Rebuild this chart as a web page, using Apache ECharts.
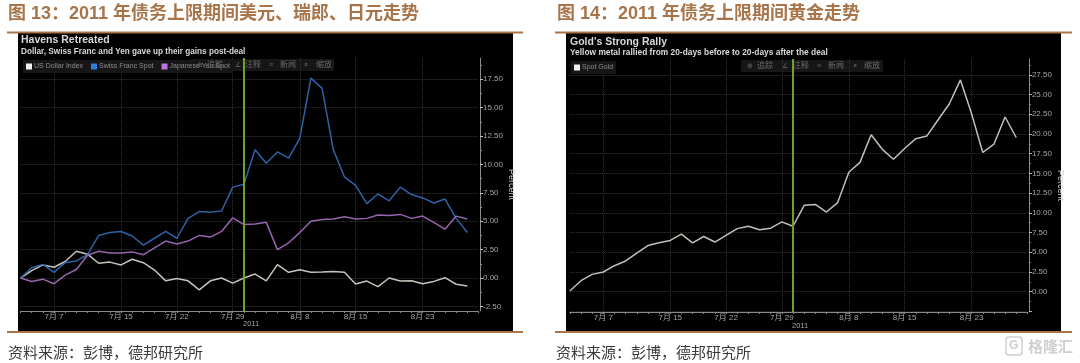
<!DOCTYPE html>
<html><head><meta charset="utf-8">
<style>html,body{margin:0;padding:0;background:#fff}#c{width:1080px;height:363px}</style>
<script src="https://cdn.jsdelivr.net/npm/echarts@6/dist/echarts.min.js"></script>
</head><body><div id="c"></div>
<script>
const tradingDays = ['7月 1','7月 5','7月 6','7月 7','7月 8','7月 11','7月 12','7月 13','7月 14','7月 15','7月 18','7月 19','7月 20','7月 21','7月 22','7月 25','7月 26','7月 27','7月 28','7月 29','8月 1','8月 2','8月 3','8月 4','8月 5','8月 8','8月 9','8月 10','8月 11','8月 12','8月 15','8月 16','8月 17','8月 18','8月 19','8月 22','8月 23','8月 24','8月 25','8月 26','8月 29',''];
const tickLabels = ['7月 7','7月 15','7月 22','7月 29','8月 8','8月 15','8月 23'];
const dealDay = '8月 1';
const usd = [0,0.65,1.15,0.95,1.45,2.35,2.1,1.3,1.4,1.15,1.65,1.35,0.7,-0.25,-0.05,-0.25,-1.05,-0.25,0,-0.45,0,0.35,-0.25,1.18,0.5,0.73,0.5,0.52,0.57,0.5,-0.53,-0.27,-0.76,0,-0.27,-0.25,-0.5,-0.3,0.03,-0.55,-0.7];
const chf = [0,0.9,1.2,0.5,1.35,1.5,2.05,3.75,4.0,4.1,3.7,2.9,3.5,4.1,3.5,5.25,5.85,5.8,5.9,8.0,8.25,11.3,10.1,11.1,10.55,12.3,17.6,16.7,11.3,8.9,8.15,6.55,7.4,6.8,8.0,7.35,7.05,6.6,6.95,5.25,4.0];
const jpy = [0,-0.3,-0.1,-0.5,0.25,0.75,2.0,2.35,2.2,2.2,2.3,2.05,2.65,3.25,3.0,3.25,3.75,3.6,4.1,5.3,4.7,4.75,4.9,2.5,3.1,4.0,5.0,5.15,5.2,5.4,5.2,5.25,5.55,5.5,5.6,5.25,5.45,4.9,4.3,5.45,5.2];
const gold = [0.1,1.4,2.2,2.5,3.3,3.9,4.9,5.85,6.2,6.5,7.3,6.2,7.0,6.3,7.15,8.0,8.3,7.85,8.05,8.85,8.3,10.95,11.07,10.1,11.3,15.15,16.4,19.9,18.05,16.8,18.15,19.4,19.75,21.8,23.8,26.85,22.55,17.65,18.7,22.15,19.55];
const leftMajor = [-2.5,0,2.5,5,7.5,10,12.5,15,17.5];
const leftMinor = [-1.25,1.25,3.75,6.25,8.75,11.25,13.75,16.25,18.75];
const rightMajor = [-2.5,0,2.5,5,7.5,10,12.5,15,17.5,20,22.5,25,27.5];
const rightLabels = [0,2.5,5,7.5,10,12.5,15,17.5,20,22.5,25,27.5];
const rightMinor = [-1.25,1.25,3.75,6.25,8.75,11.25,13.75,16.25,18.75,21.25,23.75,26.25,28.75];
const titleLeft = '图 13：2011 年债务上限期间美元、瑞郎、日元走势';
const titleRight = '图 14：2011 年债务上限期间黄金走势';
const sourceText = '资料来源：彭博，德邦研究所';

const BROWN = '#a8744a', GRIDC = '#343434', AXC = '#8a8a8a', LBL = '#a6a6a6';
const SANS = '"Liberation Sans",Arial,sans-serif';
const CJK = '"Liberation Sans","Noto Sans CJK SC",sans-serif';
const shown = (i, v) => tickLabels.includes(v);

function xAxis(g) {
  return {type:'category', gridIndex:g, data:tradingDays, boundaryGap:false,
    axisLine:{onZero:false,lineStyle:{color:AXC,width:1}},
    axisTick:{show:true,interval:0,length:2,lineStyle:{color:AXC}},
    axisLabel:{interval:shown,color:LBL,fontSize:8,margin:2,fontFamily:CJK},
    splitLine:{show:true,interval:shown,lineStyle:{color:GRIDC,type:'dotted'}}};
}
function yMain(g,min,max,ticks,labels,nameGap) {
  return {type:'value', gridIndex:g, position:'right', offset:1.5, min, max, scale:true,
    name:'Percent', nameLocation:'middle', nameRotate:-90, nameGap,
    nameTextStyle:{color:'#d0d0d0',fontSize:9,fontFamily:SANS},
    axisLine:{show:true,onZero:false,lineStyle:{color:AXC,width:1}},
    axisTick:{show:true,length:3,customValues:ticks,lineStyle:{color:'#c0c0c0'}},
    axisLabel:{color:LBL,fontSize:8,margin:3,fontFamily:SANS,customValues:labels,formatter:v=>v.toFixed(2)},
    splitLine:{show:true,lineStyle:{color:GRIDC,type:'dotted'}}};
}
function yMinor(g,min,max,ticks) {
  return {type:'value', gridIndex:g, position:'right', offset:1.5, min, max, scale:true,
    axisLine:{show:false,onZero:false}, splitLine:{show:false},
    axisTick:{show:true,length:2,customValues:ticks,lineStyle:{color:AXC}},
    axisLabel:{show:false,customValues:ticks}};
}
function line(name,data,color,xi,yi) {
  return {name,type:'line',data,xAxisIndex:xi,yAxisIndex:yi,symbol:'none',smooth:false,
    lineStyle:{color,width:1.5},itemStyle:{color},animation:false,z:3};
}
function deal(xi,yi) {
  return {type:'line',data:[],xAxisIndex:xi,yAxisIndex:yi,silent:true,z:4,
    markLine:{silent:true,animation:false,symbol:'none',label:{show:false},
      lineStyle:{color:'#6aa52a',width:2,type:'solid'},data:[{xAxis:dealDay}]}};
}
function txt(x,y,t,fill,size,weight,font) {
  return {type:'text',x,y,z:5,style:{text:t,fill,fontSize:size,fontWeight:weight||'normal',fontFamily:font||SANS,textVerticalAlign:'middle',textBaseline:'middle'}};
}
function rect(x,y,w,h,fill,z) { return {type:'rect',z:z==null?-10:z,shape:{x,y,width:w,height:h},style:{fill}}; }

const graphics = [
  rect(18,33,495,298,'#000'), rect(566,33,495,298,'#000'),
  rect(7,31.5,516,2,BROWN,1), rect(7,331,516,2,BROWN,1),
  rect(555,31.5,517,2,BROWN,1), rect(555,331,517,2,BROWN,1),
  txt(8,14,titleLeft,BROWN,18,'bold',CJK), txt(557,14,titleRight,BROWN,18,'bold',CJK),
  txt(8,352,sourceText,'#3a3a3a',15,'normal','"Noto Sans CJK SC",sans-serif'),
  txt(556,352,sourceText,'#3a3a3a',15,'normal','"Noto Sans CJK SC",sans-serif'),
  txt(21,40,'Havens Retreated','#d8d8d8',10.5,'bold'),
  txt(21,51.5,'Dollar, Swiss Franc and Yen gave up their gains post-deal','#d8d8d8',8.2,'bold'),
  txt(570,42,"Gold's Strong Rally",'#d8d8d8',10.5,'bold'),
  txt(570,53,'Yellow metal rallied from 20-days before to 20-days after the deal','#d8d8d8',8.4,'bold'),
  rect(190,59,144,12,'#161616',0), rect(741,60,142,12,'#161616',0),
  txt(197,65,'⊕','#666',7), txt(207,65,'追踪','#6a6a6a',8,'normal',CJK),
  txt(235,65,'∠','#666',7), txt(245,65,'注释','#6a6a6a',8,'normal',CJK),
  txt(269,65,'≡','#666',7), txt(280,65,'新闻','#6a6a6a',8,'normal',CJK),
  txt(304,65,'⌕','#666',8), txt(316,65,'缩放','#6a6a6a',8,'normal',CJK),
  txt(747,66,'⊕','#666',7), txt(757,66,'追踪','#6a6a6a',8,'normal',CJK),
  txt(782,66,'∠','#666',7), txt(793,66,'注释','#6a6a6a',8,'normal',CJK),
  txt(817,66,'≡','#666',7), txt(828,66,'新闻','#6a6a6a',8,'normal',CJK),
  txt(853,66,'⌕','#666',8), txt(864,66,'缩放','#6a6a6a',8,'normal',CJK),
  txt(243,324,'2011',LBL,7.5), txt(792,326,'2011',LBL,7.5),
  {type:'rect',z:5,shape:{x:1006,y:337,width:16,height:18,r:3},style:{fill:'none',stroke:'#cfcfcf',lineWidth:1.5}},
  txt(1009,346,'G','#cfcfcf',12,'bold'),
  txt(1028,346,'格隆汇','#cfcfcf',15,'bold','"Noto Sans CJK SC",sans-serif')
];

const legendText = {color:'#8c8c8c',fontSize:7,fontFamily:SANS,padding:[0,0,0,-3]};
const option = {
  animation:false, backgroundColor:'#fff',
  grid:[{left:20.5,top:58,width:458,height:253},{left:569.8,top:59,width:457.6,height:253}],
  xAxis:[xAxis(0),xAxis(1)],
  yAxis:[yMain(0,-2.905,19.37,leftMajor,leftMajor,23),yMinor(0,-2.905,19.37,leftMinor),
         yMain(1,-2.57,29.5,rightMajor,rightLabels,22),yMinor(1,-2.57,29.5,rightMinor)],
  legend:[
    {left:23,top:60,orient:'horizontal',icon:'rect',itemWidth:6,itemHeight:6,itemGap:8,backgroundColor:'#161616',padding:[3,3],textStyle:legendText,
     data:[{name:'US Dollar Index',itemStyle:{color:'#f0f0f0'}},{name:'Swiss Franc Spot',itemStyle:{color:'#2c7fe0'}},{name:'Japanese Yen Spot',itemStyle:{color:'#c070e0'}}]},
    {left:571,top:61,icon:'rect',itemWidth:6,itemHeight:6,backgroundColor:'#161616',padding:[3,3],textStyle:legendText,
     data:[{name:'Spot Gold',itemStyle:{color:'#f0f0f0'}}]}
  ],
  series:[
    line('US Dollar Index',usd,'#c4c4bc',0,0),
    line('Swiss Franc Spot',chf,'#2f62a6',0,0),
    line('Japanese Yen Spot',jpy,'#9565ad',0,0),
    deal(0,0),
    line('Spot Gold',gold,'#c0c0b8',1,2),
    deal(1,2)
  ],
  graphic:graphics
};
echarts.init(document.getElementById('c')).setOption(option);
</script></body></html>
